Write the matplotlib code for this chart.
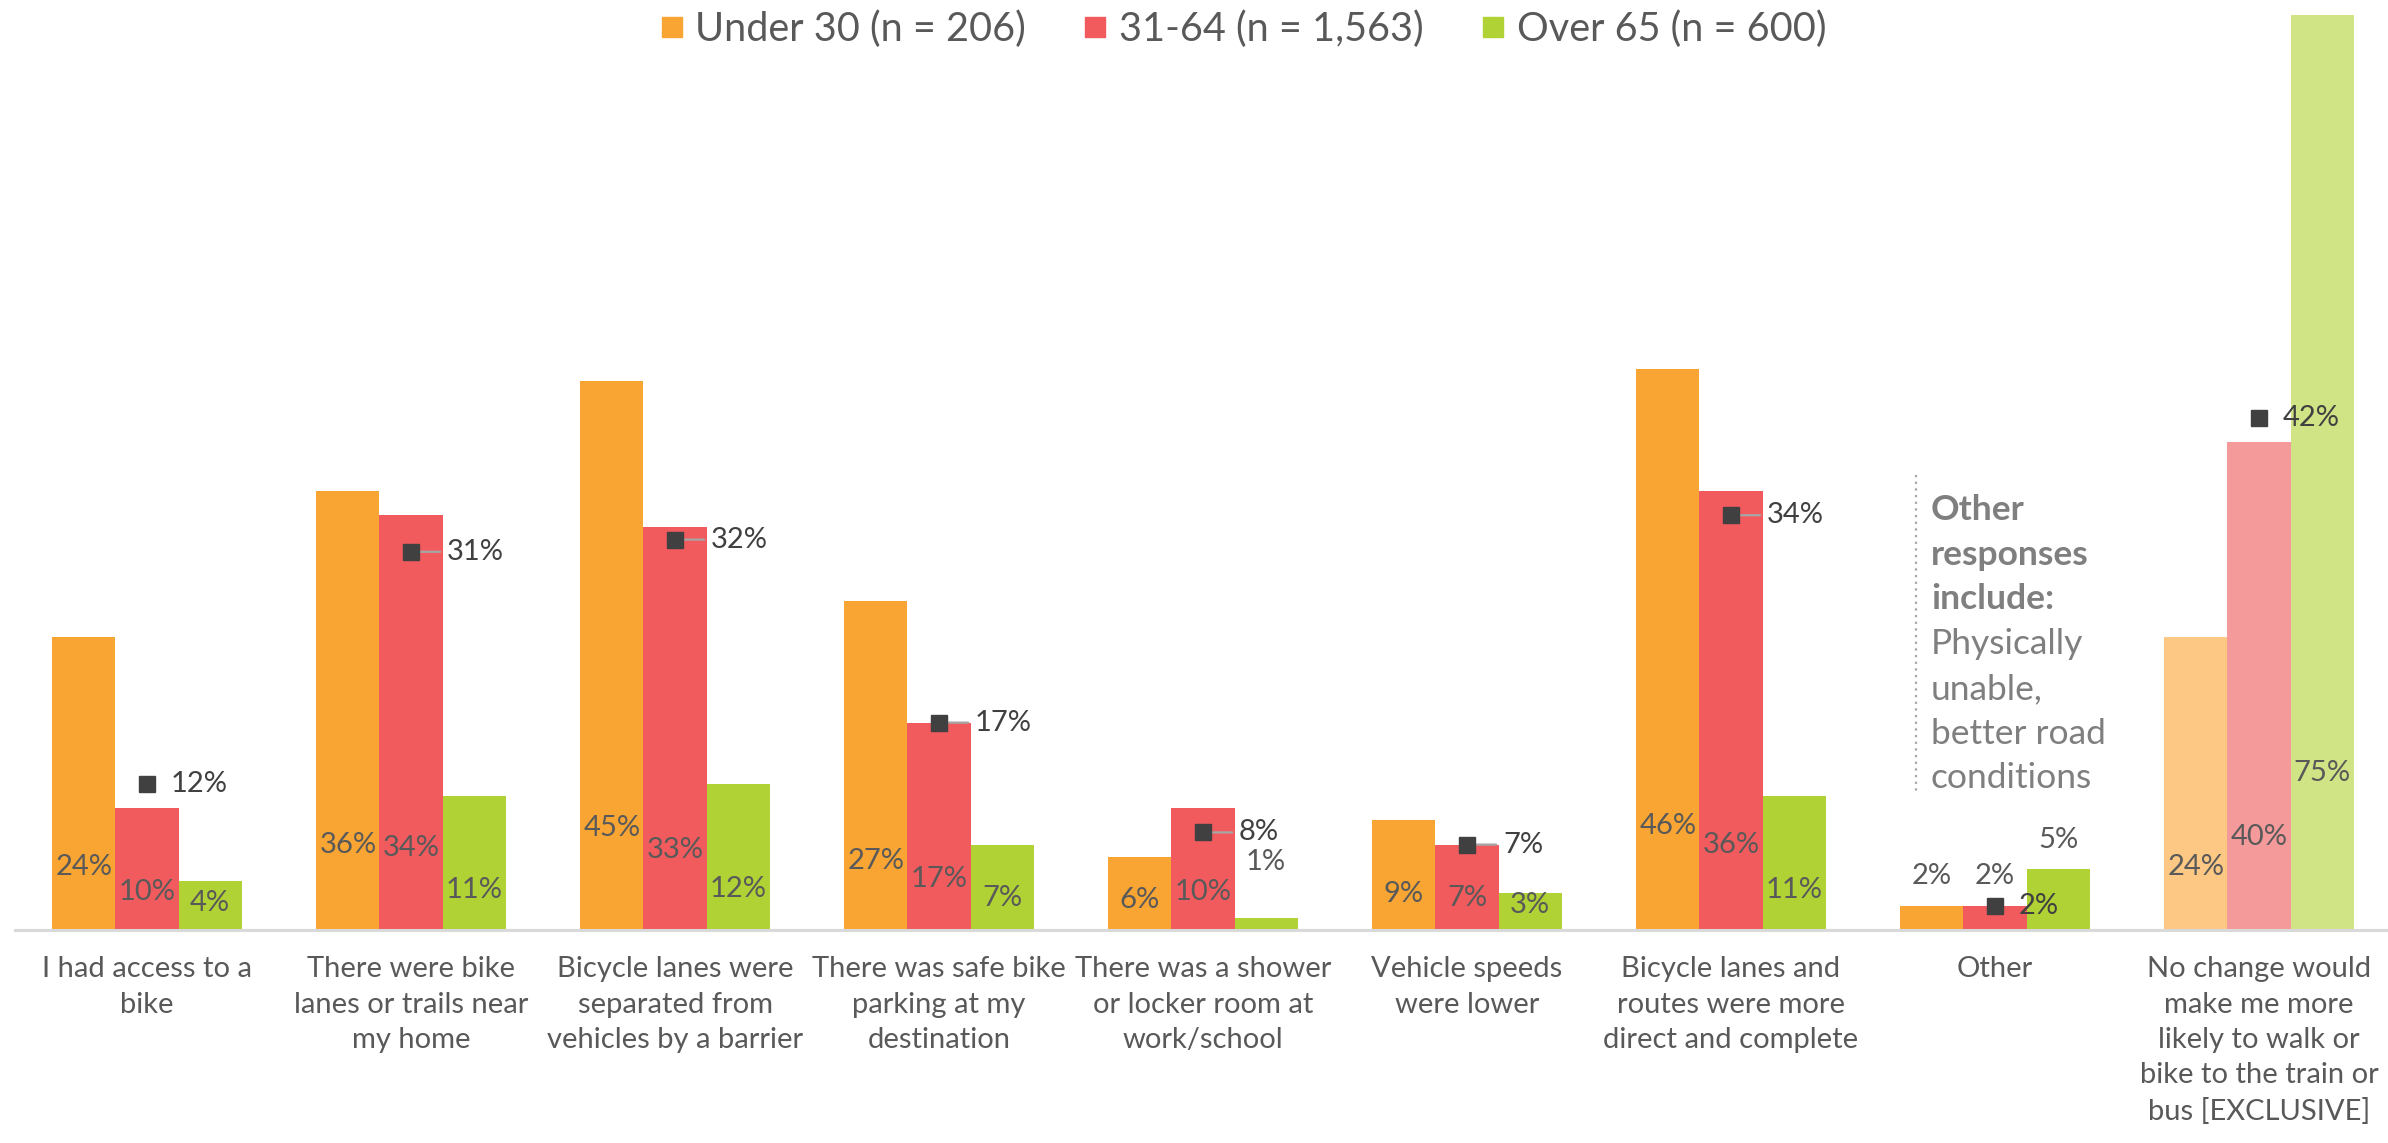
import matplotlib
matplotlib.use("Agg")
import matplotlib.pyplot as plt
from matplotlib.lines import Line2D

plt.rcParams['font.family'] = ['Lato', 'DejaVu Sans']

categories = [
    "I had access to a\nbike",
    "There were bike\nlanes or trails near\nmy home",
    "Bicycle lanes were\nseparated from\nvehicles by a barrier",
    "There was safe bike\nparking at my\ndestination",
    "There was a shower\nor locker room at\nwork/school",
    "Vehicle speeds\nwere lower",
    "Bicycle lanes and\nroutes were more\ndirect and complete",
    "Other",
    "No change would\nmake me more\nlikely to walk or\nbike to the train or\nbus [EXCLUSIVE]",
]
series_names = ["Under 30 (n = 206)", "31-64 (n = 1,563)", "Over 65 (n = 600)"]
under30 = [24, 36, 45, 27, 6, 9, 46, 2, 24]
age31_64 = [10, 34, 33, 17, 10, 7, 36, 2, 40]
over65 = [4, 11, 12, 7, 1, 3, 11, 5, 75]
overall = [12, 31, 32, 17, 8, 7, 34, 2, 42]

colors = ["#F9A533", "#F15B5D", "#B0D235"]
light_colors = ["#FCC883", "#F59A9A", "#D1E485"]
text_color = "#595959"

W, H = 2388, 1143
fig = plt.figure(figsize=(W / 100, H / 100), dpi=100)
ax = fig.add_axes([15 / W, 1 - 930 / H, 2376 / W, 930 / H])
ax.set_xlim(-0.5, 8.5)
ax.set_ylim(0, 930 / 12.2)

bw = 0.239
series = [under30, age31_64, over65]
outside = {(4, 2): 4.6, (7, 0): 2.4, (7, 1): 2.4, (7, 2): 2.4}
for s, vals in enumerate(series):
    for i, v in enumerate(vals):
        c = light_colors[s] if i == len(vals) - 1 else colors[s]
        x = i + (s - 1) * bw
        ax.bar(x, v, width=bw, color=c, edgecolor='none', zorder=2)
        if (i, s) in outside:
            ly = v + outside[(i, s)]
        else:
            ly = 1.6 + 0.15 * v
        ax.text(x, ly, f"{v}%", ha='center', va='center', fontsize=21,
                color=text_color, zorder=4)

# overall markers
ax.plot(range(len(overall)), overall, 's', color='#404040', ms=11, zorder=6,
        linestyle='none')
leader = [False, True, True, True, True, True, True, False, False]
for i, v in enumerate(overall):
    if leader[i]:
        ax.annotate(f"{v}%", xy=(i, v), xytext=(26, 0), textcoords='offset points',
                    ha='left', va='center', fontsize=21, color='#404040', zorder=5,
                    arrowprops=dict(arrowstyle='-', color='#A6A6A6', lw=1.6,
                                    shrinkA=3, shrinkB=0))
    else:
        ax.annotate(f"{v}%", xy=(i, v), xytext=(17, 0), textcoords='offset points',
                    ha='left', va='center', fontsize=21, color='#404040', zorder=5)

for sp in ['top', 'left', 'right']:
    ax.spines[sp].set_visible(False)
ax.spines['bottom'].set_color('#D9D9D9')
ax.spines['bottom'].set_linewidth(2.2)
ax.set_yticks([])
ax.set_xticks(range(len(categories)))
ax.set_xticklabels(categories, fontsize=21, color=text_color, linespacing=1.44)
ax.tick_params(axis='x', length=0, pad=19)

# legend
handles = [Line2D([], [], marker='s', linestyle='none', markersize=14.4,
                  color=c) for c in colors]
fig.legend(handles, series_names, loc='center', bbox_to_anchor=(0.5205, 1 - 29 / H),
           ncol=3, frameon=False, fontsize=28.5, handletextpad=0.3,
           columnspacing=1.45, handlelength=0.6, labelcolor=text_color)

# annotation
lines = [("Other", 'bold'), ("responses", 'bold'), ("include:", 'bold'),
         ("Physically", 'normal'), ("unable,", 'normal'), ("better road", 'normal'),
         ("conditions", 'normal')]
y0 = 510
for k, (t, wgt) in enumerate(lines):
    fig.text(1931 / W, 1 - (y0 + 44.7 * k) / H, t, ha='left', va='center',
             fontsize=25.5, fontweight=wgt, color='#7F7F7F')
fig.add_artist(Line2D([1916 / W, 1916 / W], [1 - 475 / H, 1 - 792 / H],
                      color='#A6A6A6', lw=1.6, linestyle=(0, (1, 2))))

fig.savefig("out.png", dpi=100)
